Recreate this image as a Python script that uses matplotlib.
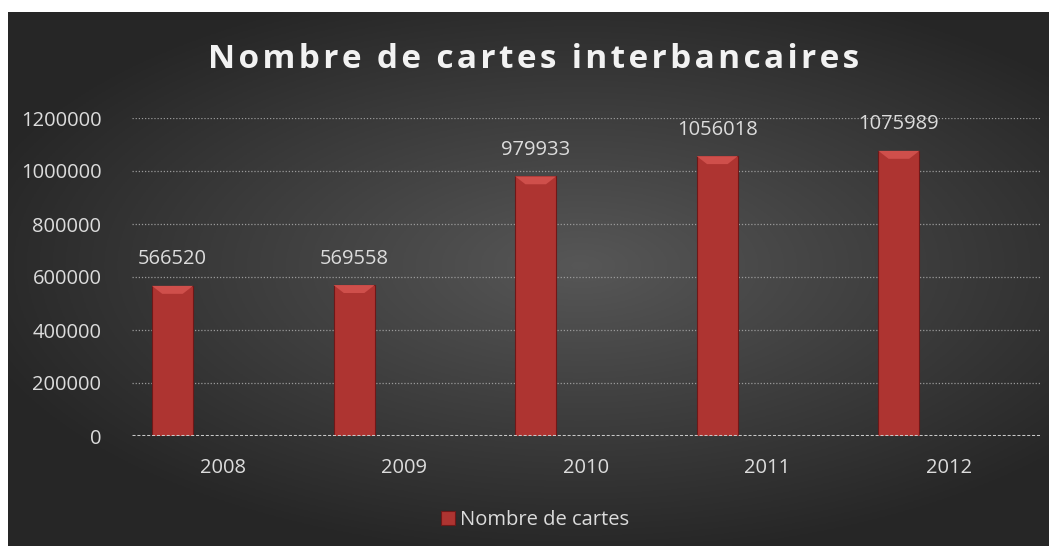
import numpy as np
import matplotlib.pyplot as plt
from matplotlib.patches import Polygon

years = ['2008', '2009', '2010', '2011', '2012']
cartes = [566520, 569558, 979933, 1056018, 1075989]
yticks = [0, 200000, 400000, 600000, 800000, 1000000, 1200000]

plt.rcParams['font.family'] = ['Open Sans', 'DejaVu Sans']
txt = '#dcdcdc'

fig = plt.figure(figsize=(10.56, 5.51), dpi=100, facecolor='white')

# dark radial gradient panel behind everything
bg = fig.add_axes([8/1056, 1 - 546/551, 1041/1056, 534/551], zorder=0)
gx, gy = np.meshgrid(np.linspace(-1, 1, 400), np.linspace(-1, 1, 220))
r = np.sqrt(((gx - 0.1) / 1.1) ** 2 + ((gy + 0.05) / 1.0) ** 2)
r = np.clip(r / 1.1, 0, 1)
shade = 0.34 - 0.19 * r
bg.imshow(np.dstack([shade, shade, shade]), aspect='auto', extent=[0, 1, 0, 1])
bg.axis('off')

ax = fig.add_axes([132/1056, 1 - 436/551, 908/1056, 318/551], zorder=1)
ax.patch.set_alpha(0)

x = np.arange(len(years))
off = -0.277
w = 0.226
bars = ax.bar(x + off, cartes, width=w, color='#ae3431', edgecolor='#6e1818',
              linewidth=0.8, zorder=3, label='Nombre de cartes')

# bevel highlight on the top of each bar
bev = 30000
for b in bars:
    x0, x1, top = b.get_x(), b.get_x() + b.get_width(), b.get_height()
    dx = b.get_width() * 0.25
    ax.add_patch(Polygon([(x0, top), (x1, top), (x1 - dx, top - bev), (x0 + dx, top - bev)],
                         closed=True, facecolor='#cf4f4b', edgecolor='none', zorder=4))

for xi, v in zip(x, cartes):
    ax.annotate(str(v), (xi + off, v), xytext=(0, 19), textcoords='offset points',
                ha='center', va='center', color=txt, fontsize=14.5)

ax.set_xlim(-0.5, len(years) - 0.5)
ax.set_ylim(0, 1200000)
ax.set_yticks(yticks)
ax.set_yticklabels([str(t) for t in yticks])
ax.set_xticks(x)
ax.set_xticklabels(years)
ax.tick_params(axis='both', length=0, colors=txt, labelsize=14.5)
ax.tick_params(axis='y', pad=22)
ax.tick_params(axis='x', pad=16)

for t in yticks[1:]:
    ax.axhline(t, color='#9a9a9a', lw=0.9, ls=(0, (1, 1.5)), zorder=1)
ax.axhline(0, color='#c8c8c8', lw=2.2, ls=(0, (1, 0.6)), zorder=5)

for s in ax.spines.values():
    s.set_visible(False)

title = 'Nombre de cartes interbancaires'
fig.text(534/1056, 1 - 60/551, '\u200a'.join(title), ha='center', va='center',
         color='#f2f2f2', fontsize=24, fontweight='bold')

leg = fig.legend(handles=[bars], labels=['Nombre de cartes'], loc='center',
                 bbox_to_anchor=(535/1056, 1 - 520/551), frameon=False,
                 fontsize=14.5, handlelength=0.7, handleheight=0.7, handletextpad=0.2)
for t in leg.get_texts():
    t.set_color(txt)

fig.savefig('out.png', dpi=100, facecolor='white')
